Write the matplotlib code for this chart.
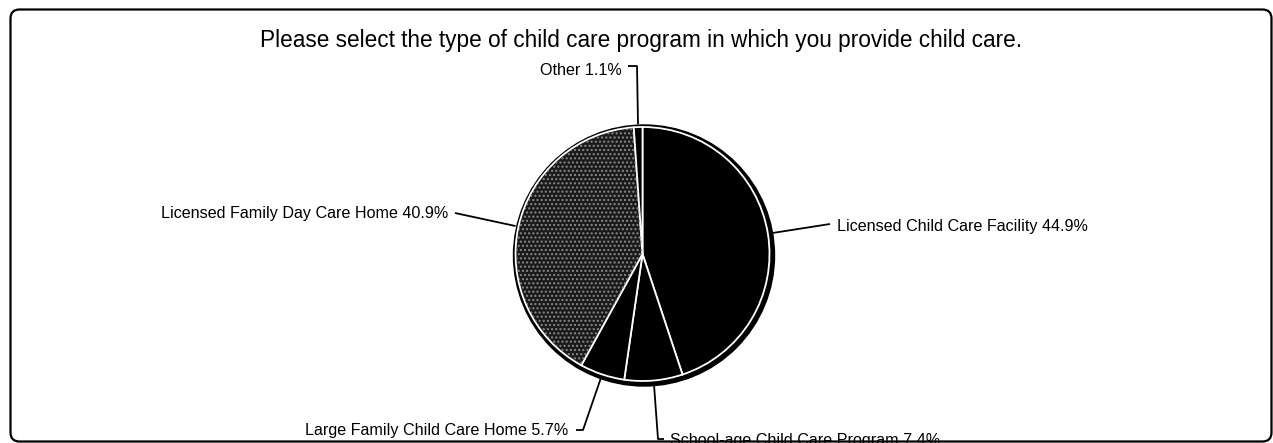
import numpy as np
import matplotlib.pyplot as plt
from matplotlib.patches import FancyBboxPatch, Circle, Wedge

plt.rcParams['font.family'] = ['Liberation Sans', 'DejaVu Sans']

title = "Please select the type of child care program in which you provide child care."
programs = [
    "Licensed Child Care Facility",
    "School-age Child Care Program",
    "Large Family Child Care Home",
    "Licensed Family Day Care Home",
    "Other",
]
shares = [44.9, 7.4, 5.7, 40.9, 1.1]
fills = ["#000000", "#000000", "#000000", "#1a1a1a", "#000000"]

W, H = 1273, 443
fig = plt.figure(figsize=(W / 100, H / 100), dpi=100)
ax = fig.add_axes([0, 0, 1, 1])

# work in pixel units, y pointing up
cx, cy, R = 642.5, H - 254, 127

# faint halftone dots over the page
gx, gy = np.meshgrid(np.arange(6, W, 17), np.arange(4, H, 11.5))
ax.scatter(gx.ravel(), gy.ravel(), s=0.5, marker='s', color='#dcdcdc',
           linewidths=0, zorder=0)

# outer frame
frame = FancyBboxPatch((10.5, 1.5), 1261, 432, boxstyle="round,pad=0,rounding_size=9",
                       transform=ax.transData, fc='none', ec='black', lw=1.6, zorder=1)
ax.add_patch(frame)

# dark rim with a slight drop shadow
ax.add_patch(Circle((cx + 1.5, cy - 1.5), R + 4.2, fc='black', ec='none', zorder=2))

wedges, _ = ax.pie(shares, colors=fills, startangle=90, counterclock=False,
                   center=(cx, cy), radius=R, frame=True,
                   wedgeprops=dict(edgecolor='white', linewidth=1.3))
for w in wedges:
    w.set_zorder(3)

# stipple texture on the family day care slice
dc = wedges[3]
ax.add_patch(Wedge((cx, cy), R - 1, dc.theta1 + 0.4, dc.theta2 - 0.4, fc='none',
                   ec='#8a8a8a', lw=0, hatch='....', zorder=4))

# label placement: text anchor, alignment, leader path (after the rim point)
layout = {
    "Licensed Child Care Facility": ((837, 226), 'left', [(830, 224)]),
    "School-age Child Care Program": ((670, 440), 'left', [(658, 439), (664, 439)]),
    "Large Family Child Care Home": ((568, 430), 'right', [(583, 430), (576, 430)]),
    "Licensed Family Day Care Home": ((448, 213), 'right', [(455, 213)]),
    "Other": ((622, 70), 'right', [(637, 66), (628, 66)]),
}

theta = 90.0
for name, share in zip(programs, shares):
    mid = np.radians(theta - share * 3.6 / 2)
    theta -= share * 3.6
    (tx, ty), ha, path = layout[name]
    px = cx + (R + 3) * np.cos(mid)
    py = cy + (R + 3) * np.sin(mid)
    xs = [px] + [p[0] for p in path]
    ys = [py] + [H - p[1] for p in path]
    ax.plot(xs, ys, color='black', lw=1.3, solid_capstyle='butt', zorder=5)
    ax.text(tx, H - ty, f"{name} {share}%", ha=ha, va='center',
            fontsize=11.6, color='black', zorder=6)

ax.text(641, H - 40, title, ha='center', va='center', fontsize=16.3, color='black')

ax.set_xlim(0, W)
ax.set_ylim(0, H)
ax.set_aspect('equal')
ax.axis('off')

fig.savefig("out.png", dpi=100, facecolor='white')
